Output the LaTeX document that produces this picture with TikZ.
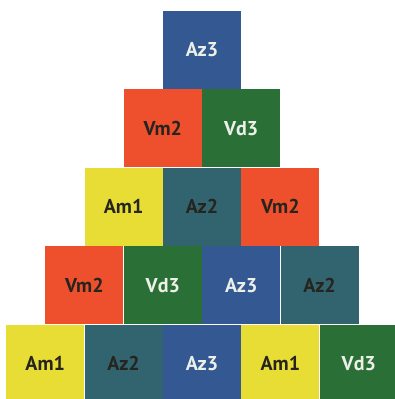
\documentclass[tikz,border=0pt]{standalone}
\usepackage{fontspec}
\setmainfont{PT Sans}
\usetikzlibrary{positioning}

\definecolor{amarelo}{RGB}{232,221,52}
\definecolor{vermelho}{RGB}{238,80,46}
\definecolor{verde}{RGB}{42,112,54}
\definecolor{azulclaro}{RGB}{50,100,112}
\definecolor{azulescuro}{RGB}{52,88,146}
\definecolor{tinta}{RGB}{38,36,30}
\definecolor{giz}{RGB}{236,240,232}

\tikzset{
  bloco/.style={rectangle, minimum width=78pt, minimum height=78pt, inner sep=0pt,
    font=\fontsize{20}{22}\selectfont\bfseries},
  am/.style={bloco, fill=amarelo, text=tinta},
  vm/.style={bloco, fill=vermelho, text=tinta},
  vd/.style={bloco, fill=verde, text=giz},
  azb/.style={bloco, fill=azulclaro, text=tinta},
  azc/.style={bloco, fill=azulescuro, text=giz},
}

\begin{document}
\begin{tikzpicture}[x=1pt, y=1pt, node distance=0pt]
  \useasboundingbox (0,0) rectangle (395,399);
  \clip (0,0) rectangle (395,399);

  % Topo
  \node[azc] (t1) at (202,349) {Az3};

  % Fila 2
  \node[vm, below=0pt of t1.south west] (s1) {Vm2};
  \node[vd, right=0pt of s1] (s2) {Vd3};

  % Fila 3
  \node[am, below=0pt of s1.south west] (r1) {Am1};
  \node[azb, right=0pt of r1] (r2) {Az2};
  \node[vm, right=0pt of r2] (r3) {Vm2};

  % Fila 4
  \node[vm, below=0pt of r1.south west] (q1) {Vm2};
  \node[vd, right=0pt of q1] (q2) {Vd3};
  \node[azc, right=0pt of q2] (q3) {Az3};
  \node[azb, right=0pt of q3] (q4) {Az2};

  % Base
  \node[am, below=0pt of q1.south west] (b1) {Am1};
  \node[azb, right=0pt of b1] (b2) {Az2};
  \node[azc, right=0pt of b2] (b3) {Az3};
  \node[am, right=0pt of b3] (b4) {Am1};
  \node[vd, right=0pt of b4] (b5) {Vd3};
\end{tikzpicture}
\end{document}
